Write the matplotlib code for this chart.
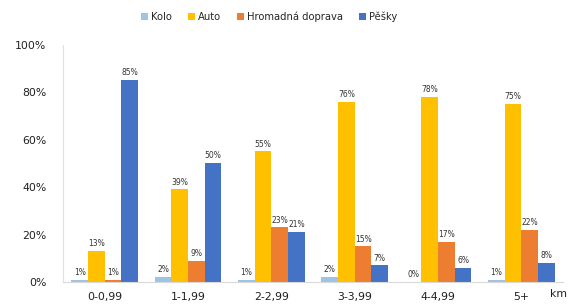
"""Podíl způsobů dopravy podle vzdálenosti cesty."""

import matplotlib.pyplot as plt
import numpy as np

categories = ["0-0,99", "1-1,99", "2-2,99", "3-3,99", "4-4,99", "5+"]
series_names = ["Kolo", "Auto", "Hromadná doprava", "Pěšky"]
kolo = [1, 2, 1, 2, 0, 1]
auto = [13, 39, 55, 76, 78, 75]
hromadna = [1, 9, 23, 15, 17, 22]
pesky = [85, 50, 21, 7, 6, 8]
colors = ["#9DC3E6", "#FFC000", "#ED7D31", "#4472C4"]


def render() -> None:
    fig = plt.figure(figsize=(5.7, 3.08), dpi=100)
    ax = fig.add_axes([0.1105, 0.0844, 0.8775, 0.771])
    x = np.arange(len(categories))
    width = 0.2
    for i, (name, vals, col) in enumerate(
        zip(series_names, [kolo, auto, hromadna, pesky], colors)
    ):
        vals = np.array(vals) / 100.0
        pos = x + (i - 1.5) * width
        ax.bar(pos, vals, width=width, color=col, label=name)
        for p, v in zip(pos, vals):
            ax.text(p, v + 0.012, f"{round(v * 100)}%", ha="center", va="bottom",
                    fontsize=5.5, color="#333333")
    ax.set_xlim(-0.5, len(categories) - 0.5)
    ax.set_ylim(0, 1.0)
    ticks = np.arange(0, 1.01, 0.2)
    ax.set_yticks(ticks)
    ax.set_yticklabels([f"{int(round(t * 100))}%" for t in ticks],
                       fontsize=7.8, color="#1f1f1f")
    ax.set_xticks(x)
    ax.set_xticklabels(categories, fontsize=7.8, color="#1f1f1f")
    ax.tick_params(axis="both", length=0)
    ax.tick_params(axis="y", pad=12)
    ax.tick_params(axis="x", pad=7)
    for s in ["top", "right"]:
        ax.spines[s].set_visible(False)
    ax.spines["left"].set_color("#D9E2F0")
    ax.spines["bottom"].set_color("#D9D9D9")
    fig.text(0.979, 0.036, "km", fontsize=7.8, color="#1f1f1f", ha="center")
    fig.legend(loc="center", bbox_to_anchor=(0.472, 0.945), ncol=4, frameon=False,
               fontsize=7.2, handlelength=0.7, handleheight=0.7,
               handletextpad=0.3, columnspacing=1.6, labelcolor="#262626")
    fig.savefig("out.png", dpi=100)
    plt.close(fig)


if __name__ == "__main__":
    render()
